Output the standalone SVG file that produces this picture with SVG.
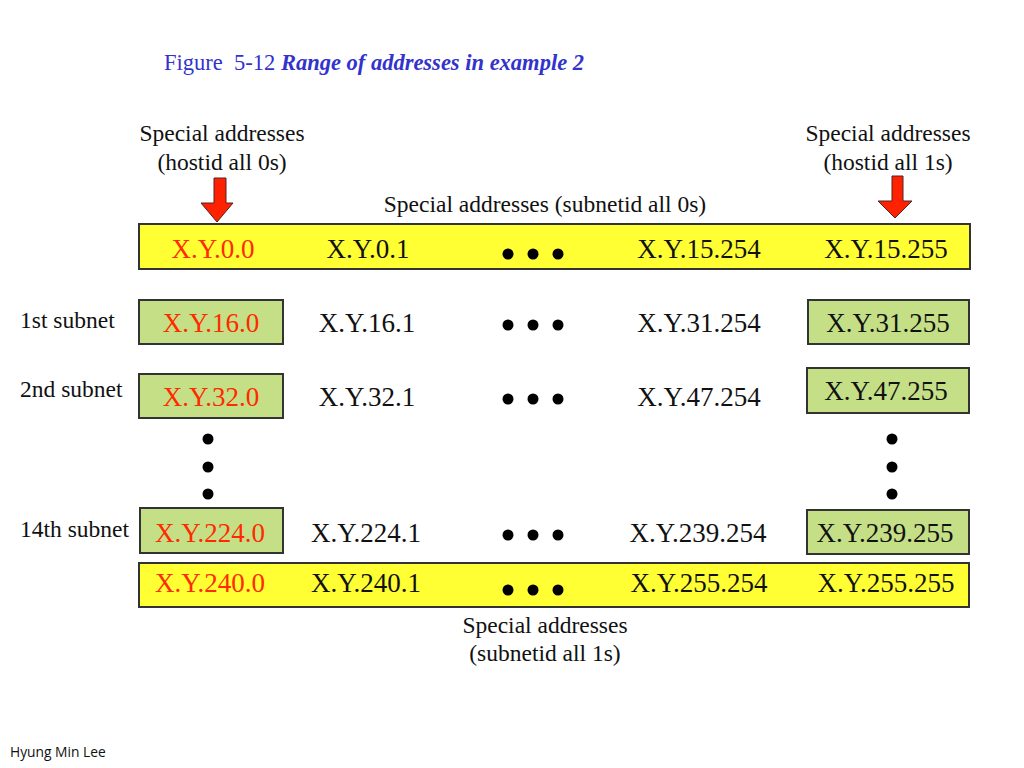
<svg xmlns="http://www.w3.org/2000/svg" width="1024" height="768" viewBox="0 0 1024 768">
<style>
.t{font-family:"Liberation Serif","Times New Roman",serif;fill:#111}
.a{font-size:27px;text-anchor:middle}
.r{fill:#ff2a00}
.l{font-size:23.5px}
.c{text-anchor:middle}
.yel{fill:#ffff33;stroke:#333;stroke-width:2}
.grn{fill:#c4df86;stroke:#333;stroke-width:2}
.arr{fill:#ff2200;stroke:#552222;stroke-width:1}
.dot{fill:#000}
</style>
<rect width="1024" height="768" fill="#fff"/>
<g id="title">
<text x="164" y="70" xml:space="preserve" font-family="Liberation Serif,serif" font-size="22.5" fill="#3333cc">Figure  5-12 <tspan font-weight="bold" font-style="italic">Range of addresses in example 2</tspan></text>
</g>
<g id="label-hostid0">
<text class="t l c" x="222" y="141">Special addresses</text>
<text class="t l c" x="222" y="170">(hostid all 0s)</text>
</g>
<g id="label-hostid1">
<text class="t l c" x="888" y="141">Special addresses</text>
<text class="t l c" x="888" y="170">(hostid all 1s)</text>
</g>
<g id="label-subnet0">
<text class="t l c" x="545" y="212">Special addresses (subnetid all 0s)</text>
</g>
<g id="label-subnet1">
<text class="t l c" x="545" y="633">Special addresses</text>
<text class="t l c" x="545" y="661">(subnetid all 1s)</text>
</g>
<g id="connectors">
<polygon class="arr" points="214,178 226,178 226,203 233,203 217,222 201,203 214,203"/>
<polygon class="arr" points="892,176 903,176 903,201 912,201 895,218 878,201 892,201"/>
</g>
<g id="row-0">
<rect class="yel" x="139" y="224" width="831" height="45"/>
<text class="t a r" x="213" y="258">X.Y.0.0</text>
<text class="t a" x="368" y="258">X.Y.0.1</text>
<circle class="dot" cx="508" cy="254" r="5.5"/><circle class="dot" cx="533" cy="254" r="5.5"/><circle class="dot" cx="558" cy="254" r="5.5"/>
<text class="t a" x="699" y="258">X.Y.15.254</text>
<text class="t a" x="886" y="258">X.Y.15.255</text>
</g>
<g id="subnet-1">
<text class="t l" x="20" y="328">1st subnet</text>
<rect class="grn" x="139" y="300" width="144" height="44"/>
<text class="t a r" x="211" y="332">X.Y.16.0</text>
<text class="t a" x="367" y="332">X.Y.16.1</text>
<circle class="dot" cx="508" cy="325" r="5.5"/><circle class="dot" cx="533" cy="325" r="5.5"/><circle class="dot" cx="558" cy="325" r="5.5"/>
<text class="t a" x="699" y="332">X.Y.31.254</text>
<rect class="grn" x="808" y="300" width="161" height="44"/>
<text class="t a" x="888" y="332">X.Y.31.255</text>
</g>
<g id="subnet-2">
<text class="t l" x="20" y="397">2nd subnet</text>
<rect class="grn" x="139" y="374" width="144" height="44"/>
<text class="t a r" x="211" y="406">X.Y.32.0</text>
<text class="t a" x="367" y="406">X.Y.32.1</text>
<circle class="dot" cx="508" cy="399" r="5.5"/><circle class="dot" cx="533" cy="399" r="5.5"/><circle class="dot" cx="558" cy="399" r="5.5"/>
<text class="t a" x="699" y="406">X.Y.47.254</text>
<rect class="grn" x="807" y="368" width="162" height="45"/>
<text class="t a" x="886" y="400">X.Y.47.255</text>
</g>
<g id="vdots">
<circle class="dot" cx="208" cy="439" r="5.5"/><circle class="dot" cx="208" cy="467" r="5.5"/><circle class="dot" cx="208" cy="494" r="5.5"/>
<circle class="dot" cx="892" cy="439" r="5.5"/><circle class="dot" cx="892" cy="467" r="5.5"/><circle class="dot" cx="892" cy="494" r="5.5"/>
</g>
<g id="subnet-14">
<text class="t l" x="20" y="537">14th subnet</text>
<rect class="grn" x="140" y="508" width="143" height="45"/>
<text class="t a r" x="210" y="542">X.Y.224.0</text>
<text class="t a" x="366" y="542">X.Y.224.1</text>
<circle class="dot" cx="508" cy="535" r="5.5"/><circle class="dot" cx="533" cy="535" r="5.5"/><circle class="dot" cx="558" cy="535" r="5.5"/>
<text class="t a" x="698" y="542">X.Y.239.254</text>
<rect class="grn" x="807" y="510" width="162" height="44"/>
<text class="t a" x="885" y="542">X.Y.239.255</text>
</g>
<g id="row-last">
<rect class="yel" x="139" y="563" width="830" height="44"/>
<text class="t a r" x="210" y="592">X.Y.240.0</text>
<text class="t a" x="366" y="592">X.Y.240.1</text>
<circle class="dot" cx="508" cy="590" r="5.5"/><circle class="dot" cx="533" cy="590" r="5.5"/><circle class="dot" cx="558" cy="590" r="5.5"/>
<text class="t a" x="699" y="592">X.Y.255.254</text>
<text class="t a" x="886" y="592">X.Y.255.255</text>
</g>
<g id="credit">
<text x="10" y="757" font-family="Open Sans,Liberation Sans,sans-serif" font-size="13.8" fill="#111">Hyung Min Lee</text>
</g>
</svg>
